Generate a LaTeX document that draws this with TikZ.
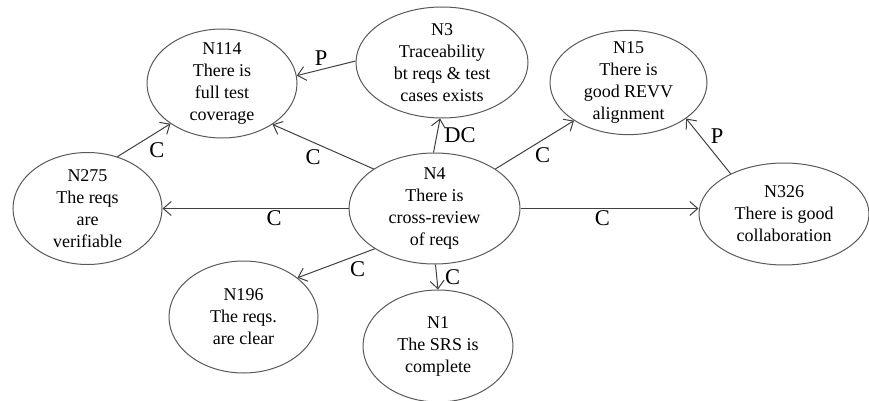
\documentclass[tikz,border=0pt]{standalone}
\usepackage{fontspec}
\setmainfont{Liberation Serif}
\usetikzlibrary{arrows,arrows.meta,shapes,positioning}
\tikzstyle{concept}=[ellipse,draw=black!65,line width=1pt,align=center,inner xsep=0pt,inner ysep=-4pt,font=\fontsize{18}{22}\selectfont]
\tikzstyle{link}=[draw=black!75,line width=1pt,-{Straight Barb[length=8pt,width=14pt]}]
\tikzstyle{lbl}=[inner sep=2pt,font=\fontsize{22.5}{24}\selectfont]

\begin{document}
\begin{tikzpicture}[x=1pt,y=-1pt]
    \useasboundingbox (0,0) rectangle (869,401);
    % First we draw the concepts
    \foreach \pos/\name/\ew/\eh/\txt in {
        {(222,83.5)/N114/150/109/{N114\\There is\\full test\\coverage}},
        {(442,62.5)/N3/172/111/{N3\\Traceability\\bt reqs \& test\\cases exists}},
        {(628.5,82.5)/N15/157/101/{N15\\There is\\good REVV\\alignment}},
        {(87.5,208.5)/N275/149/112/{N275\\The reqs\\are\\verifiable}},
        {(434.5,208.5)/N4/171/111/{N4\\There is\\cross-review\\of reqs}},
        {(784,214)/N326/170/102/{N326\\There is good\\collaboration}},
        {(243.5,317)/N196/149/112/{N196\\The reqs.\\are clear}},
        {(438,346)/N1/150/112/{N1\\The SRS is\\complete}}}
        \node[concept,minimum width=\ew pt,minimum height=\eh pt] (\name) at \pos {\txt};
    % Connect concepts with labelled links
    \foreach \src/\dst/\lab/\p/\anc/\sh in {
        N3.179/N114.6/P/0.5/south/-5,
        N275.60/N114.218/C/0.5/north west/3,
        N4.147/N114.321/C/0.5/north east/0,
        N4.91/N3.268/DC/0.5/west/5,
        N4.33/N15.215/C/0.5/north west/-2,
        N326.143/N15.328/P/0.5/south west/0,
        N4.west/N275.east/C/0.4/north/0,
        N4.east/N4.east -| N326.west/C/0.46/north/0,
        N4.214/N196.36/C/0.35/north west/0,
        N4.271/N1.90/C/0.5/west/6}
        \path[link] (\src) -- (\dst) node[lbl,pos=\p,anchor=\anc,xshift=\sh pt] {\lab};

\end{tikzpicture}
\end{document}
